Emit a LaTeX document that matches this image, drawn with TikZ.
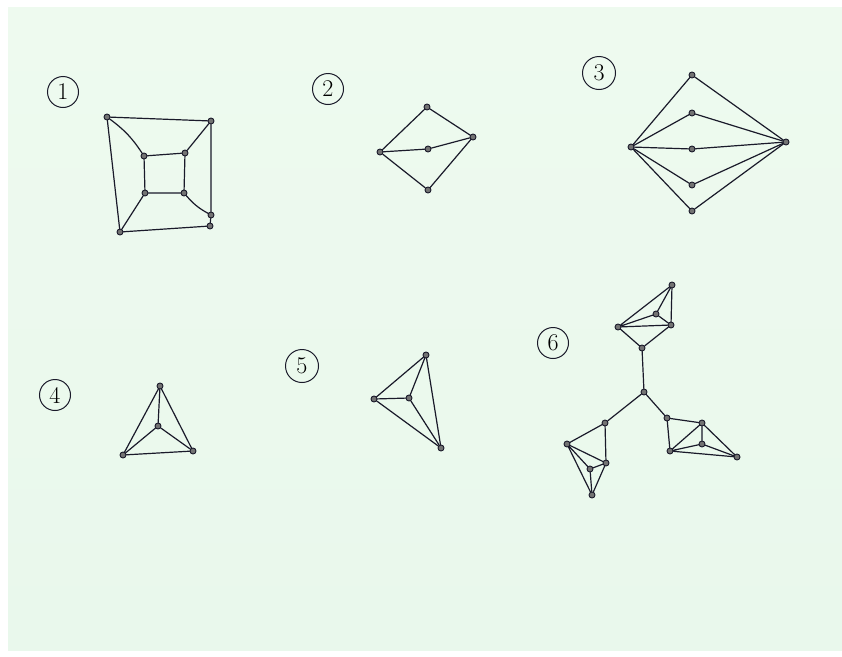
\documentclass[tikz,border=0pt]{standalone}
\usepackage{fontspec}
\usepackage{tikz}
\definecolor{papertop}{HTML}{EEFAEF}
\definecolor{papermid}{HTML}{F1FAFC}
\definecolor{paperbot}{HTML}{E9F8EC}
\definecolor{ink}{HTML}{1A1A2A}
\begin{document}
\begin{tikzpicture}[x=1pt,y=-1pt,
  vtx/.style={circle,draw=ink,fill=black!55,line width=0.9pt,inner sep=0pt,minimum size=6pt},
  edge/.style={draw=ink,line width=1.2pt,line cap=round},
  lbl/.style={circle,draw=ink,line width=1pt,minimum size=31pt,inner sep=0pt,font=\fontsize{24}{24}\selectfont}]
\useasboundingbox (0,0) rectangle (842,656);
\fill[white] (0,0) rectangle (842,656);
\shade[top color=papertop, middle color=papermid, bottom color=paperbot] (8,7) rectangle (842,650);

% Graph 1
\node[lbl] (l1) at (63,92) {1};
\node[vtx] (a1) at (107,117) {};
\node[vtx] (a2) at (211,121) {};
\node[vtx] (a3) at (211,215) {};
\node[vtx] (a4) at (210,226) {};
\node[vtx] (a5) at (120,232) {};
\node[vtx] (b1) at (144,156) {};
\node[vtx] (b2) at (185,153) {};
\node[vtx] (b3) at (184,193) {};
\node[vtx] (b4) at (145,193) {};
\draw[edge] (a1) -- (a2) -- (a3) -- (a4) -- (a5) -- (a1);
\draw[edge] (b1) -- (b2) -- (b3) -- (b4) -- (b1);
\draw[edge] (a1) to[bend left=10] (b1);
\draw[edge] (a2) -- (b2);
\draw[edge] (b3) to[bend right=10] (a3);
\draw[edge] (b4) -- (a5);

% Graph 2
\node[lbl] (l2) at (328,89) {2};
\node[vtx] (c1) at (427,107) {};
\node[vtx] (c2) at (473,137) {};
\node[vtx] (c3) at (428,149) {};
\node[vtx] (c4) at (380,152) {};
\node[vtx] (c5) at (428,190) {};
\draw[edge] (c4) -- (c1) -- (c2);
\draw[edge] (c4) -- (c3) -- (c2);
\draw[edge] (c4) -- (c5) -- (c2);

% Graph 3
\node[lbl,minimum size=33pt] (l3) at (599,73) {3};
\node[vtx] (dL) at (631,147) {};
\node[vtx] (dR) at (786,142) {};
\foreach \i/\y in {1/75,2/113,3/149,4/185,5/211} {
  \node[vtx] (d\i) at (692,\y) {};
  \draw[edge] (dL) -- (d\i) -- (dR);
}

% Graph 4
\node[lbl] (l4) at (55,395) {4};
\node[vtx] (e1) at (160,386) {};
\node[vtx] (e2) at (158,426) {};
\node[vtx] (e3) at (123,455) {};
\node[vtx] (e4) at (193,451) {};
\draw[edge] (e1) -- (e3) -- (e4) -- (e1) -- (e2);
\draw[edge] (e3) -- (e2) -- (e4);

% Graph 5
\node[lbl,minimum size=33pt] (l5) at (302,366) {5};
\node[vtx] (f1) at (426,355) {};
\node[vtx] (f2) at (374,399) {};
\node[vtx] (f3) at (409,398) {};
\node[vtx] (f4) at (441,448) {};
\draw[edge] (f1) -- (f2) -- (f4) -- (f1) -- (f3);
\draw[edge] (f2) -- (f3) -- (f4);

% Graph 6
\node[lbl] (l6) at (553,343) {6};
\node[vtx] (g0) at (644,392) {};
% top cluster
\node[vtx] (gA) at (672,285) {};
\node[vtx] (gB) at (618,327) {};
\node[vtx] (gC) at (656,314) {};
\node[vtx] (gD) at (671,325) {};
\node[vtx] (gE) at (642,348) {};
\draw[edge] (gA) -- (gB) -- (gC) -- (gD) -- (gA) -- (gC);
\draw[edge] (gB) -- (gD);
\draw[edge] (gB) -- (gE) -- (gD);
\draw[edge] (gE) -- (g0);
% left cluster
\node[vtx] (gF) at (605,423) {};
\node[vtx] (gG) at (567,444) {};
\node[vtx] (gI) at (606,463) {};
\node[vtx] (gH) at (590,469) {};
\node[vtx] (gJ) at (592,495) {};
\draw[edge] (g0) -- (gF);
\draw[edge] (gF) -- (gG) -- (gI) -- (gF);
\draw[edge] (gG) -- (gH) -- (gI) -- (gJ) -- (gG);
\draw[edge] (gH) -- (gJ);
% right cluster
\node[vtx] (gK) at (667,418) {};
\node[vtx] (gL) at (702,423) {};
\node[vtx] (gM) at (702,444) {};
\node[vtx] (gN) at (670,451) {};
\node[vtx] (gO) at (737,457) {};
\draw[edge] (g0) -- (gK);
\draw[edge] (gK) -- (gL) -- (gN) -- (gK);
\draw[edge] (gL) -- (gM) -- (gN) -- (gO) -- (gL);
\draw[edge] (gM) -- (gO);
\end{tikzpicture}
\end{document}
